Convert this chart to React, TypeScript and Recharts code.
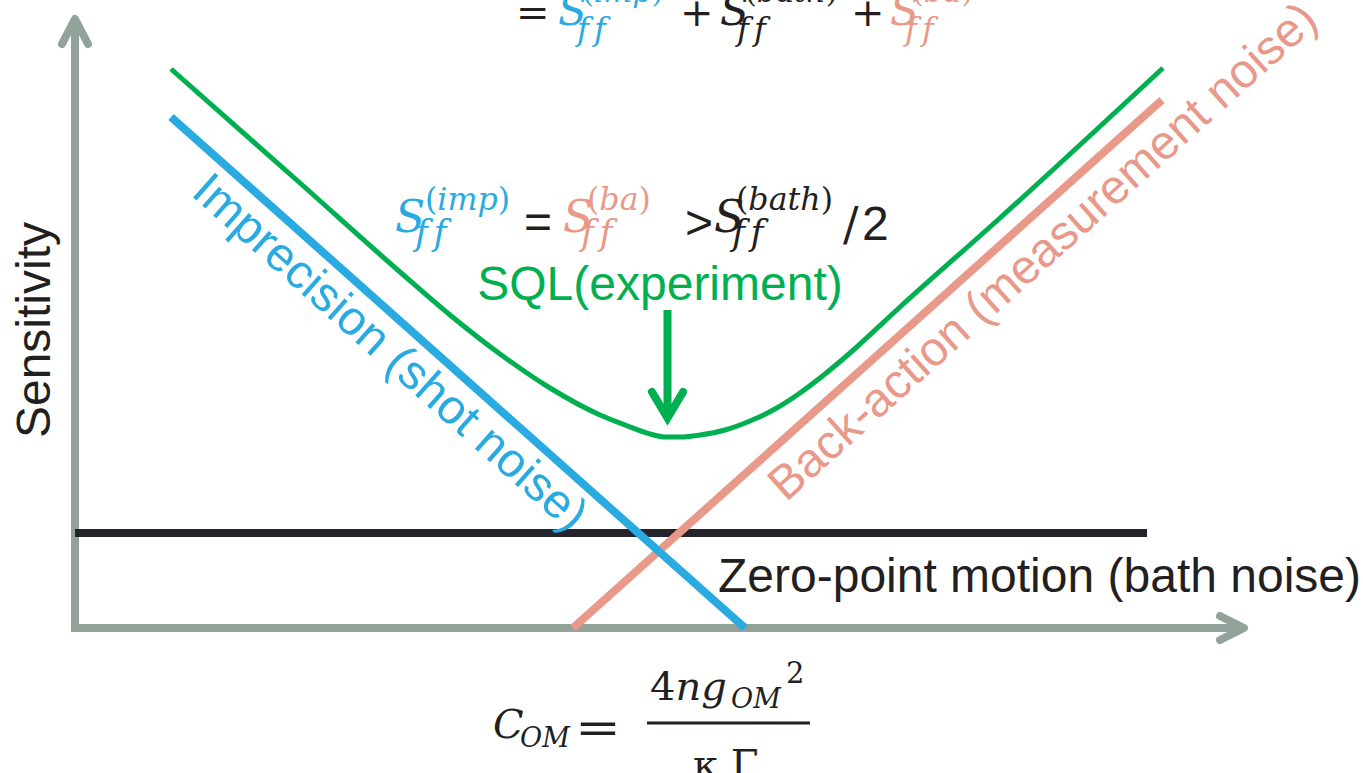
import React from 'react';
import { LineChart, Line, XAxis, YAxis, ReferenceDot } from 'recharts';

const W = 1363;
const H = 773;

// Schematic units: origin at the axis corner, x = coupling, y = sensitivity
const impX = [96, 670];
const impY = [511, 0];
const baX = [498, 1087];
const baY = [0, 528];
const bathX = [0, 1072];
const bathY = [95, 95];
const sqlX = [96, 225, 325, 375, 425, 475, 525, 550, 575, 590, 605, 625, 650, 675, 700, 725, 750, 775, 825, 925, 1088];
const sqlY = [559, 445, 356, 313, 274, 240, 213, 203, 194, 191, 191, 193, 198, 207, 219, 235, 254, 275, 321, 410, 560];

// axis arrows and the SQL pointer (schematic decorations)
const yAxisX = [0, 0];
const yAxisY = [-4, 609];
const yHeadX = [-13, 0, 13];
const yHeadY = [584, 609, 584];
const xAxisX = [-4, 1169];
const xAxisY = [0, 0];
const xHeadX = [1145, 1169, 1145];
const xHeadY = [12, 0, -12];
const ptrX = [592.5, 592.5];
const ptrY = [318, 214];
const ptrHeadX = [577, 592.5, 608];
const ptrHeadY = [236, 210, 236];

const zip = (xs: number[], ys: number[]) => xs.map((x, i) => ({ x, y: ys[i] }));

const BLUE = '#29ABE2';
const SALMON = '#E8998A';
const GREEN = '#00B050';
const DARK = '#25232E';
const TEXT = '#231F20';
const AXIS = '#93A399';
const SANS = '"Liberation Sans", Arial, sans-serif';
const MATH = '"DejaVu Serif", "Liberation Serif", serif';

type SProps = {
  x: number; y: number; color: string; size: number; subSize: number; sup: string;
  subDx: number; subDy: number; supDx: number; supDy: number;
};

function SFF({ x, y, color, size, subSize, sup, subDx, subDy, supDx, supDy }: SProps) {
  return (
    <g fill={color} fontFamily={MATH}>
      <text x={x} y={y} fontSize={size} fontStyle="italic">S</text>
      <text x={x + subDx} y={y + subDy} fontSize={subSize} fontStyle="italic" letterSpacing={subSize * 0.16}>ff</text>
      <text x={x + supDx} y={y + supDy} fontSize={size * 0.72}>
        <tspan>(</tspan>
        <tspan fontStyle="italic">{sup}</tspan>
        <tspan>)</tspan>
      </text>
    </g>
  );
}

const TopEquation = (p: any) => {
  const { cx, cy } = p;
  return (
    <g>
      <text x={cx - 42} y={cy + 1} fontSize={40} fontFamily={MATH} fill={TEXT}>=</text>
      <SFF x={cx} y={cy} color={BLUE} size={42} subSize={32} sup="imp" subDx={19} subDy={15} supDx={24} supDy={-23} />
      <text x={cx + 122} y={cy + 1} fontSize={40} fontFamily={MATH} fill={TEXT}>+</text>
      <SFF x={cx + 162} y={cy} color={TEXT} size={42} subSize={32} sup="bath" subDx={17} subDy={15} supDx={25} supDy={-23} />
      <text x={cx + 293} y={cy + 1} fontSize={40} fontFamily={MATH} fill={TEXT}>+</text>
      <SFF x={cx + 332} y={cy} color={SALMON} size={42} subSize={32} sup="ba" subDx={15} subDy={15} supDx={22} supDy={-23} />
    </g>
  );
};

const MidEquation = (p: any) => {
  const { cx, cy } = p;
  return (
    <g>
      <SFF x={cx} y={cy} color={BLUE} size={44} subSize={35} sup="imp" subDx={20} subDy={13} supDx={30} supDy={-22} />
      <text x={cx + 129} y={cy + 6} fontSize={48} fontFamily={SANS} fill={TEXT}>=</text>
      <SFF x={cx + 168} y={cy} color={SALMON} size={44} subSize={35} sup="ba" subDx={18} subDy={13} supDx={24} supDy={-22} />
      <text x={cx + 290} y={cy + 7} fontSize={48} fontFamily={SANS} fill={TEXT}>&gt;</text>
      <SFF x={cx + 319} y={cy} color={TEXT} size={44} subSize={35} sup="bath" subDx={18} subDy={13} supDx={22} supDy={-22} />
      <text x={cx + 448} y={cy + 8} fontSize={46} fontFamily={MATH} fill={TEXT}>/</text>
      <text x={cx + 467} y={cy + 8} fontSize={48} fontFamily={SANS} fill={TEXT}>2</text>
    </g>
  );
};

const CouplingFormula = (p: any) => {
  const { cx, cy } = p;
  return (
    <g fill={TEXT} fontFamily={MATH}>
      <text x={cx} y={cy} fontSize={40} fontStyle="italic">C</text>
      <text x={cx + 27} y={cy + 9} fontSize={27} fontStyle="italic">OM</text>
      <text x={cx + 82} y={cy + 5} fontSize={44} textLength={46} lengthAdjust="spacingAndGlyphs">=</text>
      <text x={cx + 157} y={cy - 38} fontSize={40}>
        <tspan>4</tspan>
        <tspan fontStyle="italic">ng</tspan>
      </text>
      <text x={cx + 238} y={cy - 30} fontSize={27} fontStyle="italic">OM</text>
      <text x={cx + 293} y={cy - 55} fontSize={29}>2</text>
      <line x1={cx + 154} x2={cx + 317} y1={cy - 15} y2={cy - 15} stroke={TEXT} strokeWidth={3} />
      <text x={cx + 200} y={cy + 40} fontSize={40}>κ Γ</text>
    </g>
  );
};

const mkLabel = (text: string, color: string, angle: number, anchor: 'start' | 'middle' | 'end') => (p: any) => (
  <text
    x={p.cx}
    y={p.cy}
    fontSize={48}
    fontFamily={SANS}
    fill={color}
    textAnchor={anchor}
    transform={angle ? `rotate(${angle}, ${p.cx}, ${p.cy})` : undefined}
  >
    {text}
  </text>
);

const SensitivityLabel = mkLabel('Sensitivity', TEXT, -90, 'middle');
const ImpLabel = mkLabel('Imprecision (shot noise)', BLUE, 41.7, 'middle');
const BaLabel = mkLabel('Back-action (measurement noise)', SALMON, -41.9, 'middle');
const SqlLabel = mkLabel('SQL(experiment)', GREEN, 0, 'middle');
const BathLabel = mkLabel('Zero-point motion (bath noise)', TEXT, 0, 'start');

export default function App() {
  const common = { dataKey: 'y', dot: false, activeDot: false, isAnimationActive: false, type: 'linear' as const };
  return (
    <div style={{ position: 'absolute', left: 0, top: 0, width: W, height: H, background: '#fff' }}>
      <LineChart width={W} height={H} margin={{ top: 0, right: 0, bottom: 0, left: 0 }}>
        <XAxis type="number" dataKey="x" domain={[-75, 1288]} hide allowDataOverflow />
        <YAxis type="number" dataKey="y" domain={[-145, 628]} hide allowDataOverflow />
        <Line {...common} data={zip(yAxisX, yAxisY)} stroke={AXIS} strokeWidth={8} />
        <Line {...common} data={zip(yHeadX, yHeadY)} stroke={AXIS} strokeWidth={8} strokeLinecap="round" strokeLinejoin="round" />
        <Line {...common} data={zip(xAxisX, xAxisY)} stroke={AXIS} strokeWidth={8} />
        <Line {...common} data={zip(xHeadX, xHeadY)} stroke={AXIS} strokeWidth={8} strokeLinecap="round" strokeLinejoin="round" />
        <Line {...common} data={zip(bathX, bathY)} stroke={DARK} strokeWidth={8} />
        <Line {...common} data={zip(baX, baY)} stroke={SALMON} strokeWidth={8} />
        <Line {...common} data={zip(impX, impY)} stroke={BLUE} strokeWidth={8} />
        <Line {...common} type="monotone" data={zip(sqlX, sqlY)} stroke={GREEN} strokeWidth={5} />
        <Line {...common} data={zip(ptrX, ptrY)} stroke={GREEN} strokeWidth={8} />
        <Line {...common} data={zip(ptrHeadX, ptrHeadY)} stroke={GREEN} strokeWidth={8} strokeLinecap="round" strokeLinejoin="miter" />
        <ReferenceDot x={483} y={603} r={0} ifOverflow="visible" shape={TopEquation} />
        <ReferenceDot x={320} y={396} r={0} ifOverflow="visible" shape={MidEquation} />
        <ReferenceDot x={418} y={-110} r={0} ifOverflow="visible" shape={CouplingFormula} />
        <ReferenceDot x={-25} y={298} r={0} ifOverflow="visible" shape={SensitivityLabel} />
        <ReferenceDot x={305} y={264} r={0} ifOverflow="visible" shape={ImpLabel} />
        <ReferenceDot x={978} y={365} r={0} ifOverflow="visible" shape={BaLabel} />
        <ReferenceDot x={585} y={328} r={0} ifOverflow="visible" shape={SqlLabel} />
        <ReferenceDot x={643} y={36} r={0} ifOverflow="visible" shape={BathLabel} />
      </LineChart>
    </div>
  );
}
